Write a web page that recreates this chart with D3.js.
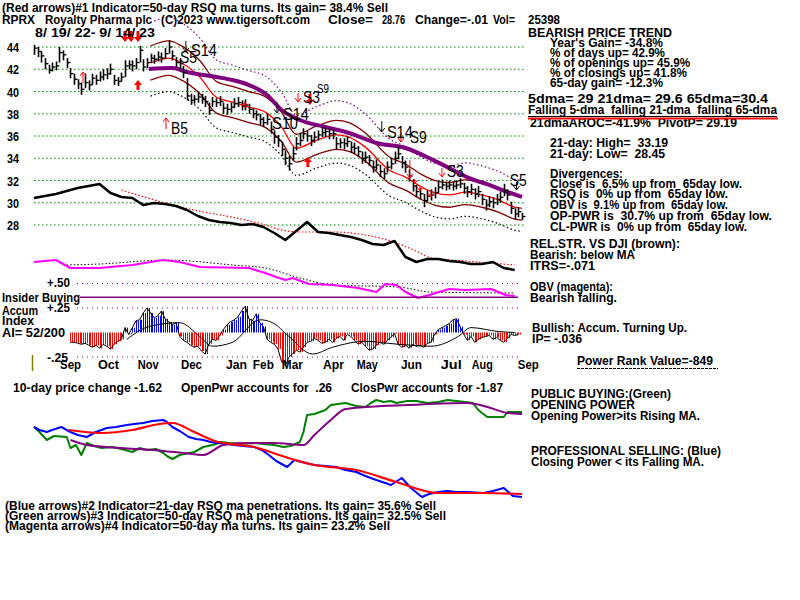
<!DOCTYPE html>
<html><head><meta charset="utf-8">
<script src="https://cdn.jsdelivr.net/npm/d3@7"></script>
<style>body{margin:0;background:#fff}svg{display:block;background:#fff}text{white-space:pre}</style>
</head><body><svg id="c" width="800" height="600"></svg>
<script>
// ---------------- DATA ----------------
// price bars, one every 2 trading days from 8/19/22 to 9/14/23
const hi = [44.2,44.0,43.6,43.0,42.4,42.6,42.7,44.0,43.7,43.0,42.1,41.6,41.1,40.8,41.6,41.0,41.6,41.5,41.8,42.0,42.1,42.5,41.5,41.3,41.7,42.8,42.8,42.8,43.0,44.1,42.9,43.0,43.4,43.3,43.6,43.5,43.9,44.6,43.7,43.1,43.0,42.3,41.2,39.8,39.7,39.9,39.8,39.6,39.0,39.5,39.4,39.6,39.0,38.9,39.0,39.4,39.5,39.2,39.3,38.9,38.5,38.3,38.0,37.7,38.0,37.3,36.5,36.1,35.5,34.7,34.2,35.0,35.9,36.3,36.7,36.5,36.1,36.4,36.5,36.8,36.8,36.7,36.6,35.9,35.8,35.8,36.0,35.5,35.4,35.1,34.6,34.6,34.3,33.8,33.9,33.4,33.1,33.7,34.0,34.6,35.0,34.2,33.8,33.0,32.1,31.6,31.3,30.8,31.1,31.2,31.4,32.0,32.1,31.9,32.0,31.9,32.0,32.2,31.8,31.5,31.7,31.3,31.5,30.8,30.3,30.6,30.5,30.8,31.0,31.7,31.2,30.1,29.5,29.6,29.1];
const lo = [43.3,43.1,42.6,42.0,41.6,41.8,41.9,42.6,42.8,42.1,41.2,40.6,40.2,39.7,40.3,40.1,40.6,40.6,40.9,41.0,41.1,41.5,40.6,40.5,40.9,41.3,42.0,41.8,42.0,42.6,41.8,42.1,42.6,42.5,42.7,42.6,42.9,43.4,42.8,42.2,42.0,41.2,39.2,38.8,38.9,39.0,38.9,38.6,37.9,38.6,38.6,38.7,38.0,37.9,38.1,38.5,38.6,38.3,38.3,38.0,37.6,37.4,37.0,36.8,37.0,36.2,35.3,35.0,34.2,33.4,32.9,33.8,34.7,35.1,35.7,35.5,35.1,35.4,35.6,35.9,35.9,35.7,35.7,34.8,34.9,34.8,35.0,34.5,34.4,34.1,33.5,33.6,33.3,32.7,32.9,32.3,32.1,32.7,33.0,33.5,33.9,33.1,32.7,31.9,31.0,30.5,30.3,29.6,30.1,30.2,30.4,30.9,31.2,31.1,31.2,31.1,31.2,31.3,30.8,30.5,30.7,30.3,30.5,29.8,29.3,29.6,29.5,29.8,30.0,30.6,30.2,29.0,28.5,28.7,28.45];
const close = [43.9,43.6,43.2,42.5,41.9,42.2,42.3,43.5,43.3,42.6,41.6,41.1,40.7,40.2,40.8,40.6,41.2,41.0,41.3,41.5,41.6,42.0,41.0,40.9,41.3,42.3,42.4,42.3,42.6,43.7,42.2,42.6,43.0,42.9,43.1,43.0,43.4,44.0,43.2,42.6,42.5,41.7,39.6,39.2,39.3,39.5,39.3,39.1,38.3,39.1,39.0,39.1,38.5,38.4,38.6,38.9,39.0,38.7,38.8,38.4,38.0,37.9,37.5,37.2,37.5,36.6,35.9,35.6,34.8,34.0,33.5,34.4,35.3,35.6,36.2,36.0,35.6,35.9,36.1,36.3,36.4,36.2,36.2,35.3,35.4,35.3,35.5,35.0,34.9,34.6,34.0,34.1,33.8,33.2,33.4,32.8,32.6,33.2,33.5,34.0,34.4,33.6,33.2,32.4,31.5,31.0,30.8,30.2,30.6,30.7,30.9,31.4,31.6,31.5,31.6,31.5,31.6,31.7,31.3,31.0,31.2,30.8,31.0,30.3,29.8,30.1,30.0,30.3,30.5,31.1,30.7,29.5,29.0,29.2,28.76];
const priceTicks = [28,30,32,34,36,38,40,42,44];

// moving averages (trading-day index, value)
const ma21Day = [64,74,80,91,100,109,118,127,136,144,155,166,173,182,195,204,213,220,228,237,246,255,264,268];
const ma21 =    [42.56,43.0,42.65,41.3,39.5,39.05,38.6,38.15,36.8,34.9,35.6,36.1,35.9,35.0,32.95,32.3,31.4,30.9,30.7,30.95,30.7,30.25,29.6,29.5];
const ma65Day = [63,76,84,100,109,118,128,136,146,160,173,188,204,217,228,239,250,260,268];
const ma65 =    [42.02,42.11,41.75,41.30,41.03,40.58,39.69,38.34,37.44,36.81,36.27,35.37,34.92,34.02,33.12,32.22,31.60,30.97,30.52];
const bandInner = 0.036, bandOuterUp = 0.085, bandOuterDn = 0.07;

// relative strength vs DJI (index units), every 6 trading days
const rsStep = 6;
const rs = [82,84,86,89,92,94,96,87,83,82,75,77,76,74,70,64,60,58,57,55,56,53,47,40,49,58,48,47,45,43,40,36,35,39,23,18,21,21,19,18,16,16,18,12,10];
const rsMaDay = [48,76,127,136,146,164,182,199,211,218,237,264];
const rsMa =    [90,75,55,50,48,48,45,37,28,22,19,15];

// OBV (index units)
const obvDay = [0,12,14,20,36,54,71,80,91,118,127,133,138,142,151,164,178,188,193,199,204,211,217,228,237,251,259,264];
const obv =    [38,40,38,32,32,35,40,38,33,32,27,23,20,22,16,15,12,8,16,15,8,2,5,11,10,11,5,4];
const obvMaDay = [18,36,73,109,127,146,164,200,218,264];
const obvMa =    [35,36,40,35,32,22,15,13,8,7];

// Accumulation index, every 2 trading days from day 20
const aiStart = 20, aiStep = 2;
const ai = [-0.10,-0.10,-0.11,-0.12,-0.11,-0.13,-0.15,-0.13,-0.16,-0.12,-0.14,-0.17,-0.12,-0.09,-0.07,0.05,-0.02,0.05,0.12,0.13,0.20,0.25,0.20,0.15,0.17,0.22,0.14,0.11,0.08,0.10,-0.04,-0.08,-0.10,-0.13,-0.15,-0.14,-0.19,-0.22,-0.12,-0.07,-0.08,-0.03,0.03,0.08,0.11,0.13,0.16,0.22,0.27,0.14,0.12,0.19,0.10,0.06,-0.07,-0.10,-0.12,-0.17,-0.30,-0.34,-0.25,-0.22,-0.18,-0.20,-0.15,-0.10,-0.09,-0.06,-0.08,-0.11,-0.10,-0.07,-0.10,-0.06,-0.04,-0.08,-0.02,-0.04,-0.08,-0.12,-0.10,-0.14,-0.18,-0.17,-0.13,-0.10,-0.12,-0.08,-0.05,-0.01,-0.12,-0.15,-0.13,-0.16,-0.12,-0.14,-0.13,-0.15,-0.11,-0.10,-0.02,0.03,0.05,0.07,0.09,0.13,0.14,0.06,-0.02,-0.08,-0.04,-0.10,-0.07,-0.05,-0.04,-0.03,-0.07,-0.05,-0.08,-0.10,-0.06,-0.02,-0.03,-0.02];
const aiMaDay = [51,63,80,91,98,109,124,131,140,153,164,182,200,218,233,240,255,264];
const aiMa =    [-0.07,0.06,0.10,-0.04,-0.14,-0.10,0.13,0.10,-0.04,-0.22,-0.15,-0.09,-0.12,-0.14,-0.04,0.05,0.01,0.0];
const aiLevels = [0.50,0.25,-0.25];
const insiderLevel = 0.36;

// Opening power (green) & its MA (purple); Closing power (blue) & its MA (red)
const opDay = [0,3,7,11,18,20,23,26,29,33,37,43,48,54,58,62,67,71,73,76,80,88,93,98,103,107,113,121,126,132,137,141,146,148,149,150,154,157,160,163,167,171,177,182,185,188,192,196,199,205,210,216,222,227,232,237,241,244,246,249,254,258,260,268];
const op =    [73,68,60,64,63,52,55,45,57,54,52,53,51,48,52,50,51,47,44,41,45,48,53,55,58,57,56,57,56,55,53,54,58,68,77,85,86,88,90,95,96,97,94,93,97,100,98,99,97,99,99,97,98,100,99,98,97,90,87,83,83,83,88,88];
const opMaDay = [20,29,48,65,82,93,104,115,132,148,154,163,171,182,205,238,249,260,268];
const opMa =    [60,55,52,50,47,45,55,57,57,55,65,80,91,93,95,97,93,87,86];
const cpDay = [0,3,7,10,15,20,24,29,34,40,45,51,55,60,65,71,73,76,80,85,89,93,97,101,106,110,115,121,125,129,133,139,143,149,154,160,166,171,177,182,188,193,196,202,205,207,213,217,222,227,232,238,247,252,258,263,268];
const cp =    [73,70,68,70,73,68,65,63,68,72,73,75,76,77,79,80,78,73,69,63,61,60,58,57,56,55,54,53,50,45,39,33,40,37,35,34,33,30,28,24,20,17,15,22,16,12,3,6,8,9,8,8,7,9,12,4,3];
const cpMaDay = [19,37,54,69,76,88,101,121,138,154,177,199,222,247,268];
const cpMa =    [70,67,70,76,77,68,58,53,43,35,30,18,7,7,6];

// month labels (trading-day index where each label starts)
const months = ["Sep","Oct","Nov","Dec","Jan","Feb","Mar","Apr","May","Jun","Jul","Aug","Sep"];
const monthDay = [14.3,35.1,57,80.7,105.4,120.2,136.1,158.7,177.3,201.5,223.4,240.4,265.7];

// signal arrows: [day, price, type]
const arrows = [
  [50,44.45,"RD"],[53.3,44.45,"RD"],[57.1,44.45,"RD"],
  [26.9,41.75,"rU"],[57.1,41.03,"RU"],[83.4,43.55,"kD"],[72.5,37.62,"rU"],
  [145,39.06,"rD"],[151.5,38.79,"RD"],[133.4,38.07,"kD"],[150.4,34.11,"RU"],
  [191,36.36,"kD"],[201.5,35.46,"rD"],[206.4,32.22,"rL"],[209,31.69,"rd"],[212,31.06,"rd"],[218,30.5,"rd"],
  [224,32.31,"rD"],[265,31.15,"kd"],[115.8,39.06,"ru"]
];
// signal labels: [day, price, text, big?]
const sigLabels = [
  [86.2,43.19,"S14",1],[80.2,42.56,"S5",1],[75.2,36.18,"B5",1],
  [147.7,38.97,"S3",1],[155.4,39.87,"S9",0],[136.7,37.44,"S14",1],[130.7,36.63,"S10",1],
  [193.8,35.82,"S14",1],[206.4,35.37,"S9",1],[226.7,32.31,"S3",1],[261.3,31.51,"S5",1]
];

// ---------------- DRAW ----------------
const svg = d3.select("#c");
svg.append("rect").attr("width",800).attr("height",600).attr("fill","#fff");
const FF = "'Liberation Sans', Arial, sans-serif";
function T(x, y, s, o = {}) {
  const t = svg.append("text").attr("x", x).attr("y", y).text(s)
    .attr("font-family", o.ff || FF).attr("font-size", o.size || 12)
    .attr("font-weight", o.w || "bold").attr("fill", o.c || "#000");
  if (o.len) t.attr("textLength", o.len).attr("lengthAdjust", "spacingAndGlyphs");
  return t;
}

const x = d3.scaleLinear().domain([0, 268]).range([34, 522]);
const y = d3.scaleLinear().domain([28, 44]).range([225, 47]);
const rsY = d3.scaleLinear().domain([0, 100]).range([280, 180]);
const obvY = d3.scaleLinear().domain([0, 100]).range([300, 200]);
const aiY = d3.scaleLinear().domain([-0.25, 0.25]).range([357, 308]);
const pwY = d3.scaleLinear().domain([0, 100]).range([500, 400]);

function path(days, vals, ys, stroke, w, dash, curve) {
  const ln = d3.line().x((d, i) => x(days[i])).y(d => ys(d)).curve(curve || d3.curveLinear);
  const p = svg.append("path").attr("d", ln(vals)).attr("fill", "none")
    .attr("stroke", stroke).attr("stroke-width", w).attr("stroke-linejoin", "round");
  if (dash) p.attr("stroke-dasharray", dash);
  return p;
}

// price grid
priceTicks.forEach(p => {
  svg.append("line").attr("x1", 34).attr("x2", 526).attr("y1", y(p)).attr("y2", y(p))
    .attr("stroke", "#008000").attr("stroke-width", 1).attr("stroke-dasharray", "1.5,2.5");
  T(7, y(p) + 5, String(p), { size: 13, len: 12 });
});

// bands and MAs
const sm = d3.curveMonotoneX;
path(ma21Day, ma21.map(v => v * (1 + bandOuterUp)), y, "#800080", 1.2, "1.5,2.5", sm);
path(ma21Day, ma21.map(v => v * (1 - bandOuterDn)), y, "#000", 1.2, "1.5,2.5", sm);
path(ma21Day, ma21.map(v => v * (1 + bandInner)), y, "#800000", 1.3, null, sm);
path(ma21Day, ma21.map(v => v * (1 - bandInner)), y, "#800000", 1.3, null, sm);
path(ma21Day, ma21, y, "#ff0000", 1.3, null, sm);
path(ma65Day, ma65, y, "#800080", 4, null, sm);

// price bars
const bars = svg.append("g").attr("stroke", "#000");
close.forEach((c, i) => {
  const xp = Math.round(x(i * 2)) + 0.5;
  bars.append("line").attr("x1", xp).attr("x2", xp).attr("y1", y(hi[i])).attr("y2", y(lo[i])).attr("stroke-width", 1.6);
  bars.append("line").attr("x1", xp).attr("x2", xp + 3).attr("y1", y(c)).attr("y2", y(c)).attr("stroke-width", 1.3);
});

// RS line and its MA
path(rsMaDay, rsMa, rsY, "#ff0000", 1.2, "1.5,2", sm);
path(rs.map((d, i) => i * rsStep), rs, rsY, "#000", 2.5);

// OBV
path(obvMaDay, obvMa, obvY, "#000", 1, "1.5,2", sm);
path(obvDay, obv, obvY, "#ff00ff", 2.2);

// AI panel
aiLevels.forEach(l => {
  svg.append("line").attr("x1", 77).attr("x2", 520).attr("y1", aiY(l)).attr("y2", aiY(l))
    .attr("stroke", "#800080").attr("stroke-width", 1).attr("stroke-dasharray", "1,4");
});
svg.append("line").attr("x1", 80).attr("x2", 518).attr("y1", aiY(insiderLevel)).attr("y2", aiY(insiderLevel))
  .attr("stroke", "#800080").attr("stroke-width", 1.5);
const aiG = svg.append("g");
ai.forEach((v, i) => {
  const d = aiStart + i * aiStep;
  [d, d + 1].forEach(dd => {
    const xp = Math.round(x(dd)) + 0.5;
    aiG.append("line").attr("x1", xp).attr("x2", xp).attr("y1", aiY(0)).attr("y2", aiY(v))
      .attr("stroke", v < 0 ? "#ff0000" : "#0000ff").attr("stroke-width", 1);
  });
});
path(ai.map((v, i) => aiStart + i * aiStep), ai, aiY, "#000", 1);
path(aiMaDay, aiMa, aiY, "#000", 1, null, sm);
svg.append("line").attr("x1", 32.5).attr("x2", 32.5).attr("y1", 355).attr("y2", 371).attr("stroke", "#808000").attr("stroke-width", 1.5);

// Power panel
path(opDay, op, pwY, "#008000", 2);
path(opMaDay, opMa, pwY, "#800080", 2, null, sm);
path(cpDay, cp, pwY, "#0000ff", 2);
path(cpMaDay, cpMa, pwY, "#ff0000", 2.2, null, sm);

// arrows
arrows.forEach(([d, p, t]) => {
  const xp = x(d), yt = y(p);
  const col = t[0] === "k" ? "#000" : "#ff0000";
  const dir = (t[1] === "U" || t[1] === "u") ? -1 : 1; // 1 = pointing down
  const len = { RD: 11, rD: 9, kD: 11, rd: 5, kd: 8, RU: 10, rU: 11, ru: 6, rL: 18 }[t];
  const thick = t[0] === "R";
  const yTail = yt - dir * len;
  if (thick) {
    svg.append("line").attr("x1", xp).attr("x2", xp).attr("y1", yTail).attr("y2", yt - dir * 4)
      .attr("stroke", col).attr("stroke-width", 3);
    svg.append("path").attr("d", `M${xp - 4},${yt - dir * 5}L${xp + 4},${yt - dir * 5}L${xp},${yt}Z`).attr("fill", col);
  } else {
    svg.append("line").attr("x1", xp).attr("x2", xp).attr("y1", yTail).attr("y2", yt).attr("stroke", col).attr("stroke-width", 1);
    svg.append("path").attr("d", `M${xp - 3},${yt - dir * 4}L${xp},${yt}L${xp + 3},${yt - dir * 4}`)
      .attr("fill", "none").attr("stroke", col).attr("stroke-width", 1);
  }
});
sigLabels.forEach(([d, p, s, big]) => {
  T(x(d), y(p), s, { size: big ? 17 : 13, w: "normal", len: big ? (s.length === 3 ? 26 : 17) : 12 });
});

// month labels
months.forEach((m, i) => T(x(monthDay[i]), 369, m, { size: 13, len: 21 }));

// ---------- texts ----------
T(2, 12, "(Red arrows)#1 Indicator=50-day RSQ ma turns. Its gain= 38.4% Sell", { len: 386 });
T(2, 24, "RPRX", { len: 33 });
T(45, 24, "Royalty Pharma plc", { len: 107 });
T(161, 24, "(C)2023 www.tigersoft.com", { len: 149 });
T(328, 24, "Close=", { len: 45 });
T(382, 24, "28.76", { len: 23 });
T(415, 24, "Change=-.01", { len: 73 });
T(493, 24, "Vol=", { len: 22 });
T(528, 24, "25398", { len: 32 });
T(35, 37, "8/ 19/ 22- 9/ 14/ 23", { len: 120 });

const R = [
  [528, 37, "BEARISH PRICE TREND", 144],
  [550, 47, "Year's Gain= -34.8%", 113],
  [550, 57, "% of days up= 42.9%", 115],
  [550, 67, "% of openings up= 45.9%", 140],
  [550, 77, "% of closings up= 41.8%", 137],
  [550, 87, "65-day gain= -12.3%", 113],
  [528, 103, "5dma= 29 21dma= 29.6 65dma=30.4", 240],
  [528, 114, "Falling 5-dma  falling 21-dma  falling 65-dma", 249],
  [530, 127, "21dmaAROC=-41.9%  PivotP= 29.19", 207],
  [550, 147, "21-day: High=  33.19", 118],
  [550, 158, "21-day: Low=  28.45", 115],
  [550, 178, "Divergences:", 73],
  [550, 188, "Close is  6.5% up from  65day low.", 192],
  [550, 198, "RSQ is  0% up from  65day low.", 178],
  [550, 209, "OBV is  9.1% up from  65day low.", 178],
  [550, 220, "OP-PWR is  30.7% up from  65day low.", 222],
  [550, 231, "CL-PWR is  0% up from  65day low.", 197],
  [530, 248, "REL.STR. VS DJI (brown):", 150],
  [530, 259, "Bearish: below MA", 105],
  [530, 270, "ITRS=-.071", 65],
  [530, 291, "OBV (magenta):", 83],
  [530, 302, "Bearish falling.", 87],
  [532, 332, "Bullish: Accum. Turning Up.", 155],
  [532, 343, "IP= -.036", 50],
  [577, 365, "Power Rank Value=-849", 136]
];
R.forEach(([a, b, s, l]) => T(a, b, s, { len: l }));
svg.append("line").attr("x1", 528).attr("x2", 777).attr("y1", 116.5).attr("y2", 116.5).attr("stroke", "#000").attr("stroke-width", 1);
svg.append("line").attr("x1", 528).attr("x2", 778).attr("y1", 118.5).attr("y2", 118.5).attr("stroke", "#ff0000").attr("stroke-width", 2);
svg.append("line").attr("x1", 577).attr("x2", 718).attr("y1", 368.5).attr("y2", 368.5).attr("stroke", "#000").attr("stroke-width", 1).attr("stroke-dasharray", "3,1");

// AI panel labels
T(2, 302, "Insider Buying", { len: 78 });
T(2, 315, "Accum", { len: 36 });
T(2, 325, "Index", { len: 32 });
T(2, 337, "AI= 52/200", { len: 63 });
T(47, 287, "+.50", { len: 23 });
T(47, 312, "+.25", { len: 23 });
T(47, 362, "-.25", { len: 21 });

// bottom texts
const B = [
  [13, 392, "10-day price change -1.62", 149],
  [181, 392, "OpenPwr accounts for  .26", 151],
  [351, 392, "ClosPwr accounts for -1.87", 152],
  [531, 398, "PUBLIC BUYING:(Green)", 140],
  [531, 409, "OPENING POWER", 104],
  [531, 420, "Opening Power>its Rising MA.", 169],
  [531, 455, "PROFESSIONAL SELLING: (Blue)", 190],
  [531, 466, "Closing Power < its Falling MA.", 173],
  [5, 510, "(Blue arrows)#2 Indicator=21-day RSQ ma penetrations. Its gain= 35.6% Sell", 431],
  [5, 520, "(Green arrows)#3 Indicator=50-day RSQ ma penetrations. Its gain= 32.5% Sell", 441],
  [5, 530, "(Magenta arrows)#4 Indicator=50-day ma turns. Its gain= 23.2% Sell", 385]
];
B.forEach(([a, b, s, l]) => T(a, b, s, { len: l, size: 12.5, w: 600 }));
</script></body></html>
